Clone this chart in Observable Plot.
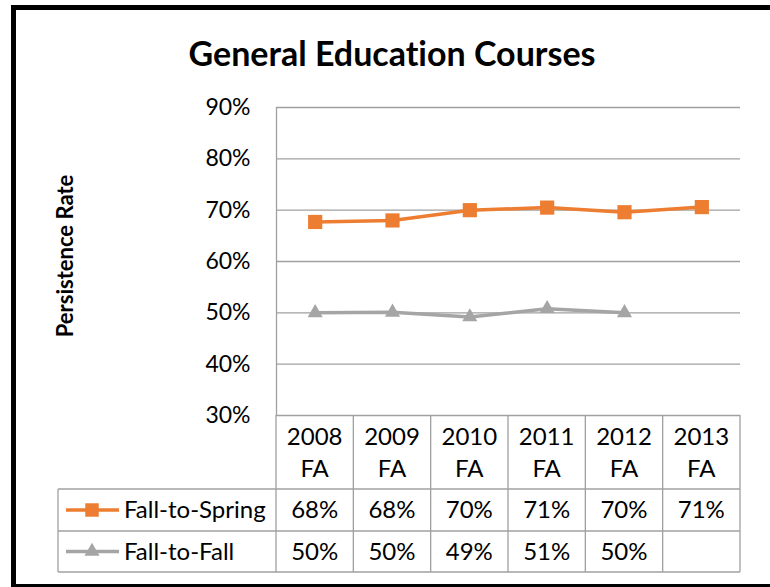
<!DOCTYPE html>
<html><head><meta charset="utf-8">
<script src="https://cdn.jsdelivr.net/npm/d3@7"></script>
<script src="https://cdn.jsdelivr.net/npm/@observablehq/plot@0.6"></script>
<style>
body{margin:0;background:#fff;font-family:Lato,sans-serif;font-variant-ligatures:none;}
svg text{font-variant-ligatures:none;}
#wrap{position:relative;width:770px;height:587px;overflow:hidden;background:#fff;}
#frame{position:absolute;left:11px;top:5px;width:765px;height:584px;border:5.5px solid #000;box-sizing:border-box;}
#chart{position:absolute;left:0;top:0;}
#overlay{position:absolute;left:0;top:0;}
</style></head>
<body><div id="wrap"><div id="frame"></div><div id="chart"></div><svg id="overlay" width="770" height="587"></svg></div>
<script>
const title = "General Education Courses";
const yLabel = "Persistence Rate";
const categories = ["2008 FA","2009 FA","2010 FA","2011 FA","2012 FA","2013 FA"];
const seriesNames = ["Fall-to-Spring","Fall-to-Fall"];
const fallToSpring = [0.677,0.680,0.700,0.705,0.696,0.706];
const fallToFall = [0.500,0.501,0.492,0.508,0.500,null];
const fallToSpringLabels = ["68%","68%","70%","71%","70%","71%"];
const fallToFallLabels = ["50%","50%","49%","51%","50%",""];
const yTicks = [0.3,0.4,0.5,0.6,0.7,0.8,0.9];
const colors = ["#ED7D31","#A5A5A5"];
const gridColor = "#A0A0A0";

const W=770, ML=276, MR=30, MT=107, PB=415;
const springData = categories.map((c,i)=>({i:i+0.5,v:fallToSpring[i]})).filter(d=>d.v!=null);
const fallData = categories.map((c,i)=>({i:i+0.5,v:fallToFall[i]})).filter(d=>d.v!=null);

const chart = Plot.plot({
  width: W, height: PB+15, marginLeft: ML, marginRight: MR, marginTop: MT, marginBottom: 15,
  style:{fontFamily:"Lato", fontSize:"23px", color:"#000", background:"transparent", overflow:"visible"},
  x:{domain:[0,categories.length], axis:null},
  y:{domain:[0.3,0.9], ticks:yTicks, tickFormat:d3.format(".0%"), tickSize:0, tickPadding:26, label:null},
  marks:[
    Plot.ruleY(yTicks,{stroke:gridColor, strokeWidth:1.3}),
    Plot.ruleX([0],{y1:0.3,y2:0.9,stroke:gridColor,strokeWidth:1.3}),
    Plot.line(fallData,{x:"i",y:"v",stroke:colors[1],strokeWidth:3.5}),
    Plot.dot(fallData,{x:"i",y:"v",symbol:"triangle",r:5.6,fill:colors[1],stroke:null}),
    Plot.line(springData,{x:"i",y:"v",stroke:colors[0],strokeWidth:3.5}),
    Plot.dot(springData,{x:"i",y:"v",symbol:"square",r:8,fill:colors[0],stroke:null})
  ]
});
document.getElementById("chart").appendChild(chart);

// data table + title + y label
const xs = d3.scaleLinear().domain([0,categories.length]).range([ML, W-MR]);
const svg = d3.select("#overlay").style("font-family","Lato");
const tL = 58, r1 = 489, r2 = 531, r3 = 572;
const g = svg.append("g").attr("stroke",gridColor).attr("stroke-width",1.3);
d3.range(categories.length+1).forEach(k=>{
  g.append("line").attr("x1",xs(k)).attr("x2",xs(k)).attr("y1",PB).attr("y2",r3);
});
g.append("line").attr("x1",tL).attr("x2",tL).attr("y1",r1).attr("y2",r3);
[r1,r2,r3].forEach(y=>g.append("line").attr("x1",tL).attr("x2",xs(categories.length)).attr("y1",y).attr("y2",y));

const fs = 24;
categories.forEach((c,i)=>{
  const parts = c.split(" ");
  svg.append("text").attr("x",xs(i+0.5)).attr("y",445).attr("text-anchor","middle").attr("font-size",fs).text(parts[0]);
  svg.append("text").attr("x",xs(i+0.5)).attr("y",477).attr("text-anchor","middle").attr("font-size",fs).text(parts[1]);
  svg.append("text").attr("x",xs(i+0.5)).attr("y",518).attr("text-anchor","middle").attr("font-size",fs).text(fallToSpringLabels[i]);
  svg.append("text").attr("x",xs(i+0.5)).attr("y",560).attr("text-anchor","middle").attr("font-size",fs).text(fallToFallLabels[i]);
});
// legend keys
const rowsY = [(r1+r2)/2,(r2+r3)/2];
seriesNames.forEach((s,k)=>{
  const y = rowsY[k];
  svg.append("line").attr("x1",66).attr("x2",119).attr("y1",y).attr("y2",y).attr("stroke",colors[k]).attr("stroke-width",3.5);
  const sym = k===0 ? d3.symbol(d3.symbolSquare, 64*Math.PI*0.9) : d3.symbol(d3.symbolTriangle, 5.6*5.6*Math.PI);
  svg.append("path").attr("d",sym()).attr("transform",`translate(92,${y})`).attr("fill",colors[k]);
  svg.append("text").attr("x",124).attr("y",[518,560][k]).attr("font-size",fs).text(s);
});
svg.append("text").attr("x",392).attr("y",66).attr("text-anchor","middle").attr("font-size",34).attr("font-weight",700).text(title);
svg.append("text").attr("transform","translate(73,256) rotate(-90)").attr("text-anchor","middle").attr("font-size",22).attr("font-weight",700).text(yLabel);
</script></body></html>
